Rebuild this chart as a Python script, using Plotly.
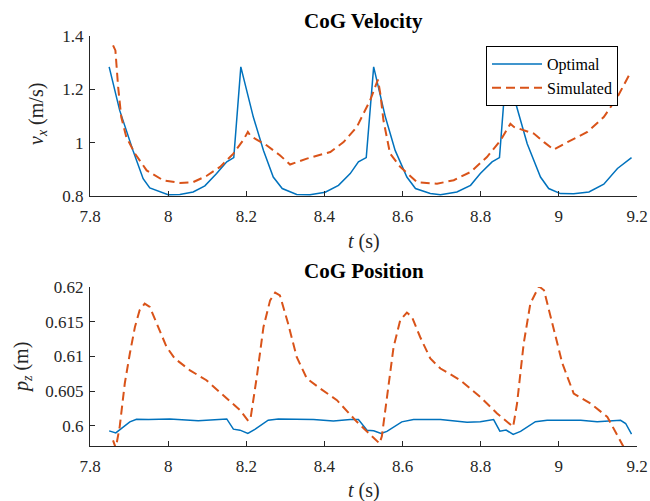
import plotly.graph_objects as go

# ---- CoG velocity (top) ----
t_opt_v = [7.849, 7.876, 7.910, 7.936, 7.953, 8.000, 8.030, 8.064, 8.094, 8.124, 8.150, 8.168,
           8.186, 8.218, 8.244, 8.269, 8.292, 8.329, 8.363, 8.402, 8.436, 8.466, 8.487, 8.507,
           8.526, 8.556, 8.581, 8.611, 8.633, 8.671, 8.697, 8.739, 8.774, 8.799, 8.829, 8.848,
           8.866, 8.885, 8.919, 8.953, 8.974, 9.004, 9.038, 9.077, 9.115, 9.150, 9.186]
v_opt = [1.284, 1.121, 0.971, 0.865, 0.830, 0.805, 0.806, 0.815, 0.838, 0.884, 0.928, 0.944,
         1.284, 1.096, 0.971, 0.871, 0.828, 0.806, 0.805, 0.814, 0.840, 0.884, 0.928, 0.944,
         1.284, 1.096, 0.971, 0.871, 0.828, 0.809, 0.805, 0.815, 0.840, 0.884, 0.928, 0.944,
         1.284, 1.171, 0.996, 0.871, 0.828, 0.809, 0.808, 0.815, 0.844, 0.903, 0.944]

t_sim_v = [7.859, 7.865, 7.872, 7.880, 7.893, 7.915, 7.945, 7.987, 8.030, 8.064, 8.098, 8.133,
           8.167, 8.192, 8.204, 8.211, 8.252, 8.286, 8.312, 8.355, 8.415, 8.449, 8.483, 8.517,
           8.537, 8.543, 8.551, 8.568, 8.594, 8.637, 8.688, 8.731, 8.774, 8.816, 8.851, 8.876,
           8.885, 8.936, 8.962, 8.987, 9.022, 9.073, 9.115, 9.150, 9.184]
v_sim = [1.365, 1.346, 1.209, 1.096, 1.021, 0.959, 0.896, 0.859, 0.849, 0.852, 0.875, 0.909,
         0.959, 1.009, 1.040, 1.025, 0.990, 0.953, 0.918, 0.940, 0.965, 1.002, 1.059, 1.159,
         1.236, 1.184, 1.084, 0.959, 0.909, 0.852, 0.846, 0.859, 0.890, 0.946, 1.009, 1.071,
         1.059, 1.034, 1.002, 0.974, 1.002, 1.040, 1.096, 1.171, 1.265]

# ---- CoG position (bottom) ----
t_opt_p = [7.849, 7.866, 7.902, 7.919, 7.950, 8.004, 8.077, 8.133, 8.150, 8.167, 8.184, 8.204,
           8.222, 8.256, 8.282, 8.372, 8.423, 8.466, 8.487, 8.509, 8.526, 8.545, 8.560, 8.598,
           8.628, 8.697, 8.765, 8.799, 8.833, 8.849, 8.865, 8.883, 8.902, 8.940, 8.970, 9.056,
           9.098, 9.158, 9.171, 9.186]
p_opt = [0.59928, 0.59899, 0.60058, 0.60096, 0.60090, 0.60100, 0.60072, 0.60100, 0.60100, 0.59953,
         0.59938, 0.59890, 0.59948, 0.60082, 0.60100, 0.60090, 0.60070, 0.60090, 0.60090, 0.59938,
         0.59930, 0.59890, 0.59920, 0.60058, 0.60090, 0.60090, 0.60053, 0.60060, 0.60090, 0.59924,
         0.59940, 0.59876, 0.59920, 0.60060, 0.60080, 0.60080, 0.60060, 0.60080, 0.60034, 0.59880]

t_sim_p = [7.859, 7.866, 7.876, 7.889, 7.902, 7.915, 7.927, 7.940, 7.953, 7.974, 7.996, 8.017,
           8.056, 8.098, 8.141, 8.184, 8.205, 8.211, 8.227, 8.244, 8.261, 8.274, 8.286, 8.307,
           8.329, 8.355, 8.389, 8.432, 8.483, 8.522, 8.541, 8.547, 8.560, 8.577, 8.594, 8.611,
           8.624, 8.645, 8.671, 8.697, 8.748, 8.799, 8.842, 8.883, 8.893, 8.910, 8.927, 8.949,
           8.962, 8.987, 9.009, 9.038, 9.081, 9.124, 9.163, 9.175]
p_sim = [0.59790, 0.59680, 0.59986, 0.60610, 0.61042, 0.61424, 0.61665, 0.61761, 0.61712, 0.61424,
         0.61137, 0.60970, 0.60800, 0.60657, 0.60442, 0.60226, 0.60072, 0.60110, 0.60710, 0.61424,
         0.61808, 0.61920, 0.61880, 0.61473, 0.60993, 0.60682, 0.60538, 0.60370, 0.60058, 0.59842,
         0.59747, 0.59850, 0.60417, 0.61137, 0.61521, 0.61632, 0.61570, 0.61280, 0.60970, 0.60826,
         0.60657, 0.60417, 0.60178, 0.59986, 0.60322, 0.61186, 0.61761, 0.62010, 0.61952, 0.61377,
         0.60898, 0.60466, 0.60322, 0.60130, 0.59747, 0.59600]

x_ticks = [7.8, 8.0, 8.2, 8.4, 8.6, 8.8, 9.0, 9.2]
x_labels = ["7.8", "8", "8.2", "8.4", "8.6", "8.8", "9", "9.2"]
vy_ticks = [0.8, 1.0, 1.2, 1.4]
vy_labels = ["0.8", "1", "1.2", "1.4"]
py_ticks = [0.6, 0.605, 0.61, 0.615, 0.62]
py_labels = ["0.6", "0.605", "0.61", "0.615", "0.62"]

BLUE = "#0072BD"
RED = "#D95319"
AX = "#262626"
FONT = "Liberation Serif, Times New Roman, serif"

fig = go.Figure()
fig.add_trace(go.Scatter(x=t_opt_v, y=v_opt, mode="lines", name="Optimal",
                         line=dict(color=BLUE, width=1.5), xaxis="x", yaxis="y"))
fig.add_trace(go.Scatter(x=t_sim_v, y=v_sim, mode="lines", name="Simulated",
                         line=dict(color=RED, width=2, dash="9px,5px"), xaxis="x", yaxis="y"))
fig.add_trace(go.Scatter(x=t_opt_p, y=p_opt, mode="lines", showlegend=False,
                         line=dict(color=BLUE, width=1.5), xaxis="x2", yaxis="y2"))
fig.add_trace(go.Scatter(x=t_sim_p, y=p_sim, mode="lines", showlegend=False,
                         line=dict(color=RED, width=2, dash="9px,5px"), xaxis="x2", yaxis="y2"))

common_x = dict(range=[7.8, 9.2], tickvals=x_ticks, ticktext=x_labels, showgrid=False,
                zeroline=False, showline=True, linecolor=AX, linewidth=1, mirror=False,
                ticks="inside", ticklen=5, tickcolor=AX, automargin=False,
                tickfont=dict(family=FONT, size=17, color=AX), ticklabelstandoff=5)
common_y = dict(showgrid=False, zeroline=False, showline=True, linecolor=AX, linewidth=1,
                mirror=False, ticks="inside", ticklen=5, tickcolor=AX, automargin=False,
                tickfont=dict(family=FONT, size=17, color=AX), ticklabelstandoff=2)

fig.update_layout(
    width=650, height=501,
    margin=dict(l=90, r=13, t=36, b=55),
    paper_bgcolor="white", plot_bgcolor="white",
    font=dict(family=FONT, color=AX),
    xaxis=dict(domain=[0, 1], anchor="y", **common_x),
    yaxis=dict(domain=[0.6098, 1], anchor="x", range=[0.8, 1.4], tickvals=vy_ticks,
               ticktext=vy_labels, **common_y),
    xaxis2=dict(domain=[0, 1], anchor="y2", **common_x),
    yaxis2=dict(domain=[0, 0.3878], anchor="x2", range=[0.5971, 0.62], tickvals=py_ticks,
                ticktext=py_labels, **common_y),
    legend=dict(x=(486 - 90) / 547, y=(446 - 46) / 410, xanchor="left", yanchor="top",
                bgcolor="white", bordercolor="#000000", borderwidth=1, itemwidth=50,
                font=dict(family=FONT, size=16, color="#000000"), tracegroupgap=0),
    showlegend=True,
)

annotations = [
    dict(text="<b>CoG Velocity</b>", x=0.5, y=21, font=dict(size=21, color="#000000")),
    dict(text="<i>t</i> (s)", x=0.5, y=241, font=dict(size=20, color=AX)),
    dict(text="<b>CoG Position</b>", x=0.5, y=271, font=dict(size=21, color="#000000")),
    dict(text="<i>t</i> (s)", x=0.5, y=490, font=dict(size=20, color=AX)),
]
for a in annotations:
    fig.add_annotation(text=a["text"], xref="paper", x=a["x"], yref="paper",
                       y=(501 - 55 - a["y"]) / 410, xanchor="center", yanchor="middle",
                       showarrow=False, font=dict(family=FONT, **a["font"]))
fig.add_annotation(text="<i>v</i><sub><i>x</i></sub> (m/s)", xref="paper", yref="paper",
                   x=(38 - 90) / 547, y=(446 - 114) / 410, textangle=-90, showarrow=False,
                   xanchor="center", yanchor="middle", font=dict(family=FONT, size=20, color=AX))
fig.add_annotation(text="<i>p</i><sub><i>z</i></sub> (m)", xref="paper", yref="paper",
                   x=(22 - 90) / 547, y=(446 - 368) / 410, textangle=-90, showarrow=False,
                   xanchor="center", yanchor="middle", font=dict(family=FONT, size=20, color=AX))

fig.write_html("out.html")
